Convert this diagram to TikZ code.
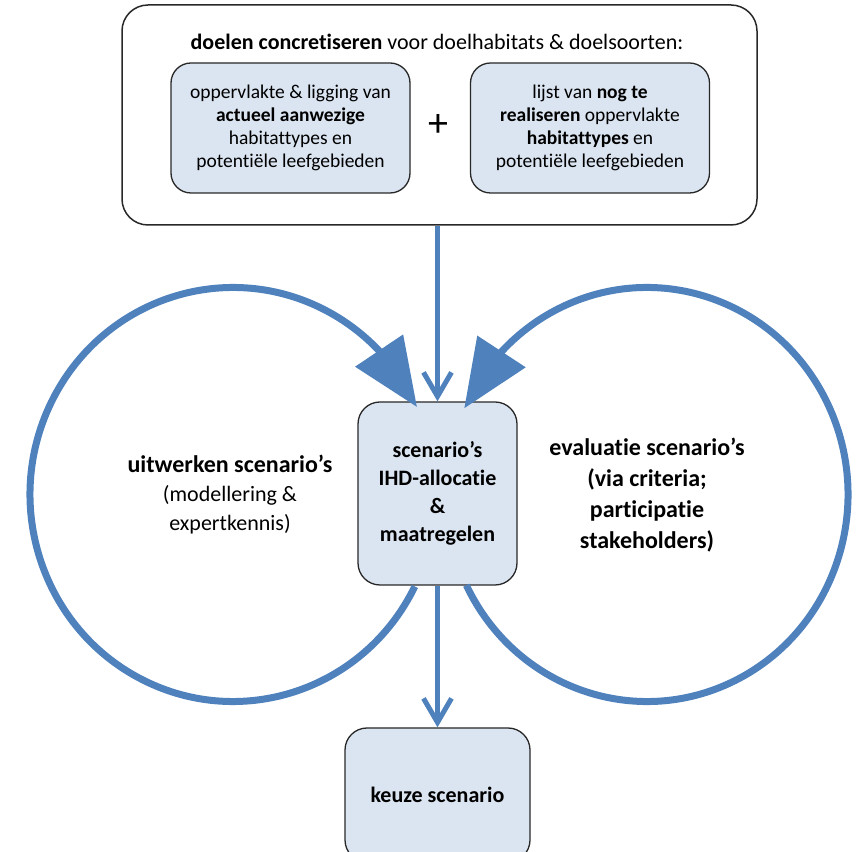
\documentclass[tikz,border=0pt]{standalone}
\usepackage{fontspec}
\setmainfont{Carlito}[Ligatures={NoCommon}]
\usetikzlibrary{arrows.meta,bending}
\definecolor{flowblue}{RGB}{79,129,189}
\definecolor{boxfill}{RGB}{219,229,241}
\definecolor{boxline}{RGB}{40,40,40}
\begin{document}
\begin{tikzpicture}[x=1pt,y=1pt,
  outerbox/.style={draw=boxline, line width=1.5pt, rounded corners=26pt, fill=white,
    minimum width=635pt, minimum height=220pt, inner sep=0pt},
  innerbox/.style={draw=boxline, line width=1.3pt, rounded corners=20pt, fill=boxfill,
    minimum width=239pt, minimum height=130pt, align=center, inner sep=0pt,
    font=\fontsize{19.5}{23}\selectfont},
  bluebox/.style={draw=boxline, line width=1.3pt, rounded corners=22pt, fill=boxfill,
    align=center, inner sep=0pt, font=\fontsize{22}{28}\selectfont\bfseries},
  looptext/.style={align=center, inner sep=0pt},
  vline/.style={draw=flowblue, line width=5pt, -{Straight Barb[length=24pt,width=28pt]}},
  loopline/.style={draw=flowblue, line width=7pt, -{Triangle[length=68pt,width=56pt]}}
]
\useasboundingbox (0,0) rectangle (863,852);

% top box
\node[outerbox] (top) at (439.5,737) {};
\node[inner sep=0pt, font=\fontsize{22}{25}\selectfont] (title) at (437,810)
  {\textbf{doelen concretiseren} voor doelhabitats \& doelsoorten:};
\node[innerbox] (actual) at (290.5,724)
  {oppervlakte \& ligging van\\\textbf{actueel aanwezige}\\habitattypes en\\potentiële leefgebieden};
\node[innerbox] (todo) at (590,724)
  {lijst van \textbf{nog te}\\\textbf{realiseren} oppervlakte\\\textbf{habitattypes} en\\potentiële leefgebieden};
\node[inner sep=0pt, font=\fontsize{40}{40}\selectfont] (plus) at (438,726) {+};

% centre box
\node[bluebox, minimum width=159pt, minimum height=183pt] (mid) at (437.5,358.5)
  {scenario’s\\IHD-allocatie\\\&\\maatregelen};

% choice box
\node[bluebox, minimum width=185pt, minimum height=134pt] (keuze) at (437.5,57)
  {keuze scenario};

% loop texts
\node[looptext, font=\fontsize{22}{29}\selectfont] (ltext) at (230,357)
  {\textbf{\fontsize{24}{29}\selectfont uitwerken scenario’s}\\(modellering \&\\expertkennis)};
\node[looptext, font=\fontsize{24}{31}\selectfont\bfseries] (rtext) at (647,357)
  {evaluatie scenario’s\\(via criteria;\\participatie\\stakeholders)};

% loop centres
\coordinate (lc) at (233,357.5);
\coordinate (rc) at (647,357.5);

% connectors
\draw[vline] (mid.north |- top.south) -- (mid.north);
\draw[vline] (mid.south) -- (keuze.north);
\draw[loopline] ([shift={({203*cos(-26.4)},{207*sin(-26.4)})}]lc)
  arc[start angle=-26.4, end angle=-335, x radius=203pt, y radius=207pt];
\draw[loopline] ([shift={({201*cos(206)},{207*sin(206)})}]rc)
  arc[start angle=206, end angle=515.4, x radius=201pt, y radius=207pt];
\end{tikzpicture}
\end{document}
